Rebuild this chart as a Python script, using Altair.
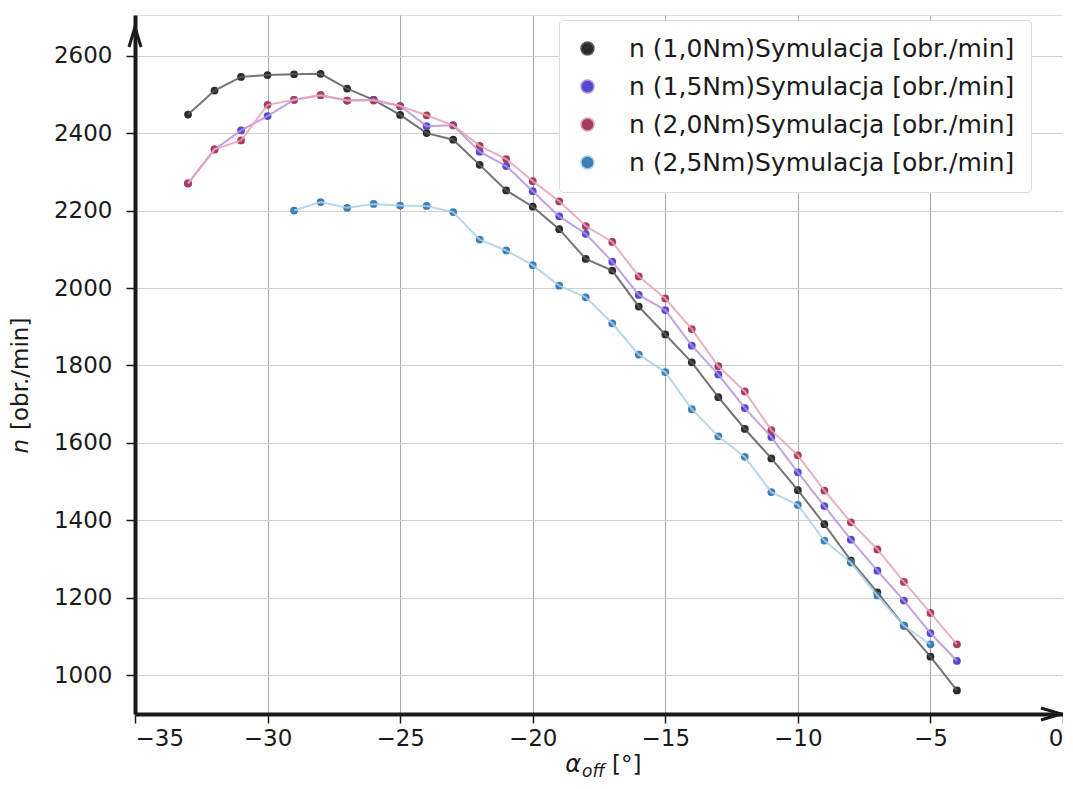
import altair as alt
import pandas as pd

series_names = [
    "n (1,0Nm)Symulacja [obr./min]",
    "n (1,5Nm)Symulacja [obr./min]",
    "n (2,0Nm)Symulacja [obr./min]",
    "n (2,5Nm)Symulacja [obr./min]",
]

alpha_a = [-33, -32, -31, -30, -29, -28, -27, -26, -25, -24, -23, -22, -21, -20, -19,
           -18, -17, -16, -15, -14, -13, -12, -11, -10, -9, -8, -7, -6, -5, -4]
alpha_b = [-29, -28, -27, -26, -25, -24, -23, -22, -21, -20, -19, -18, -17,
           -16, -15, -14, -13, -12, -11, -10, -9, -8, -7, -6, -5]

n_10 = [2448, 2510, 2545, 2550, 2552, 2553, 2515, 2486, 2447, 2400, 2383, 2318, 2252, 2210, 2152,
        2075, 2045, 1952, 1880, 1808, 1718, 1636, 1560, 1478, 1390, 1296, 1214, 1128, 1048, 961]
n_15 = [2270, 2358, 2407, 2444, 2486, 2498, 2484, 2486, 2470, 2418, 2420, 2352, 2315, 2250, 2185,
        2140, 2068, 1982, 1943, 1851, 1777, 1690, 1615, 1524, 1437, 1350, 1270, 1193, 1109, 1037]
n_20 = [2270, 2358, 2381, 2473, 2486, 2498, 2484, 2484, 2470, 2446, 2420, 2367, 2333, 2276, 2224,
        2160, 2119, 2030, 1973, 1894, 1798, 1733, 1633, 1568, 1477, 1395, 1325, 1241, 1161, 1080]
n_25 = [2200, 2222, 2207, 2217, 2213, 2212, 2196, 2125, 2097, 2059, 2006, 1976, 1909,
        1828, 1783, 1687, 1617, 1564, 1473, 1440, 1348, 1291, 1206, 1128, 1080]

x_ticks = [-35, -30, -25, -20, -15, -10, -5, 0]
y_ticks = [1000, 1200, 1400, 1600, 1800, 2000, 2200, 2400, 2600]

marker_colors = ["#2b2b2b", "#5449cc", "#a83c5c", "#3d7db5"]
line_colors = ["#5a5a5a", "#b890e0", "#e6a2b6", "#a8d0e6"]

rows = []
for name, xs, ys in [(series_names[0], alpha_a, n_10), (series_names[1], alpha_a, n_15),
                     (series_names[2], alpha_a, n_20), (series_names[3], alpha_b, n_25)]:
    for a, v in zip(xs, ys):
        rows.append({"series": name, "line_series": name, "alpha": a, "n": v})
df = pd.DataFrame(rows)

FONT = "DejaVu Sans"

x_enc = alt.X("alpha:Q", scale=alt.Scale(domain=[-35, 0], nice=False, zero=False),
              axis=alt.Axis(values=x_ticks, title=None, format="d", grid=True,
                            gridColor="#a8a8a8", gridWidth=1,
                            domainColor="#1a1a1a", domainWidth=4,
                            tickColor="#1a1a1a", tickSize=9, tickWidth=1.5,
                            labelFontSize=23, labelColor="#1a1a1a", labelPadding=4,
                            labelFont=FONT))
y_enc = alt.Y("n:Q", scale=alt.Scale(domain=[900, 2705], nice=False, zero=False),
              axis=alt.Axis(values=y_ticks, title=None, format="d", grid=True,
                            gridColor="#cfcfcf", gridWidth=1,
                            domainColor="#1a1a1a", domainWidth=4,
                            tickColor="#1a1a1a", tickSize=9, tickWidth=1.5,
                            labelFontSize=23, labelColor="#1a1a1a", labelPadding=14,
                            labelFont=FONT))

base = alt.Chart(df)

lines = base.mark_line(strokeWidth=2, opacity=0.85).encode(
    x=x_enc, y=y_enc,
    stroke=alt.Stroke("line_series:N", scale=alt.Scale(domain=series_names, range=line_colors),
                      legend=None),
    detail="line_series:N",
)

points = base.mark_circle(size=60, opacity=1).encode(
    x=x_enc, y=y_enc,
    color=alt.Color("series:N", scale=alt.Scale(domain=series_names, range=marker_colors),
                    legend=alt.Legend(title=None, orient="none", legendX=424, legendY=5,
                                      direction="vertical",
                                      labelFontSize=25, labelFont=FONT, labelColor="#1a1a1a",
                                      symbolSize=170, symbolType="circle",
                                      labelOffset=29, rowPadding=12, padding=16,
                                      fillColor="#ffffff",
                                      strokeColor="#dddddd", cornerRadius=4,
                                      labelLimit=600)),
)

one = alt.Data(values=[{"k": 1}])

arrow_x = alt.Chart(one).mark_point(
    shape="M -2 -0.6 L 0 0 L -2 0.6", filled=False, stroke="#1a1a1a", strokeWidth=3,
    size=400, opacity=1
).encode(x=alt.value(926), y=alt.value(699))

arrow_y = alt.Chart(one).mark_point(
    shape="M -0.6 2 L 0 0 L 0.6 2", filled=False, stroke="#1a1a1a", strokeWidth=3,
    size=400, opacity=1
).encode(x=alt.value(0), y=alt.value(12))

xt_alpha = alt.Chart(one).mark_text(text="α", font=FONT, fontSize=24, fontStyle="italic",
                                    align="right", baseline="alphabetic", color="#1a1a1a"
                                    ).encode(x=alt.value(446), y=alt.value(757))
xt_off = alt.Chart(one).mark_text(text="off", font=FONT, fontSize=17, fontStyle="italic",
                                  align="left", baseline="alphabetic", color="#1a1a1a"
                                  ).encode(x=alt.value(447), y=alt.value(762))
xt_deg = alt.Chart(one).mark_text(text="[°]", font=FONT, fontSize=23,
                                  align="left", baseline="alphabetic", color="#1a1a1a"
                                  ).encode(x=alt.value(477), y=alt.value(757))

yt_n = alt.Chart(one).mark_text(text="n", font=FONT, fontSize=23, fontStyle="italic",
                                angle=270, align="right", baseline="middle", color="#1a1a1a"
                                ).encode(x=alt.value(-114), y=alt.value(424))
yt_rest = alt.Chart(one).mark_text(text="[obr./min]", font=FONT, fontSize=23,
                                   angle=270, align="left", baseline="middle", color="#1a1a1a"
                                   ).encode(x=alt.value(-114), y=alt.value(415))

chart = alt.layer(
    points, lines, arrow_x, arrow_y, xt_alpha, xt_off, xt_deg, yt_n, yt_rest
).properties(
    width=928, height=699,
    autosize=alt.AutoSizeParams(type="none"),
    padding={"left": 127, "top": 7, "right": 0, "bottom": 66},
).configure_view(
    stroke="#1a1a1a", strokeWidth=2
).configure(background="white")

chart.save("out.html", embed_options={"renderer": "svg", "actions": False})
